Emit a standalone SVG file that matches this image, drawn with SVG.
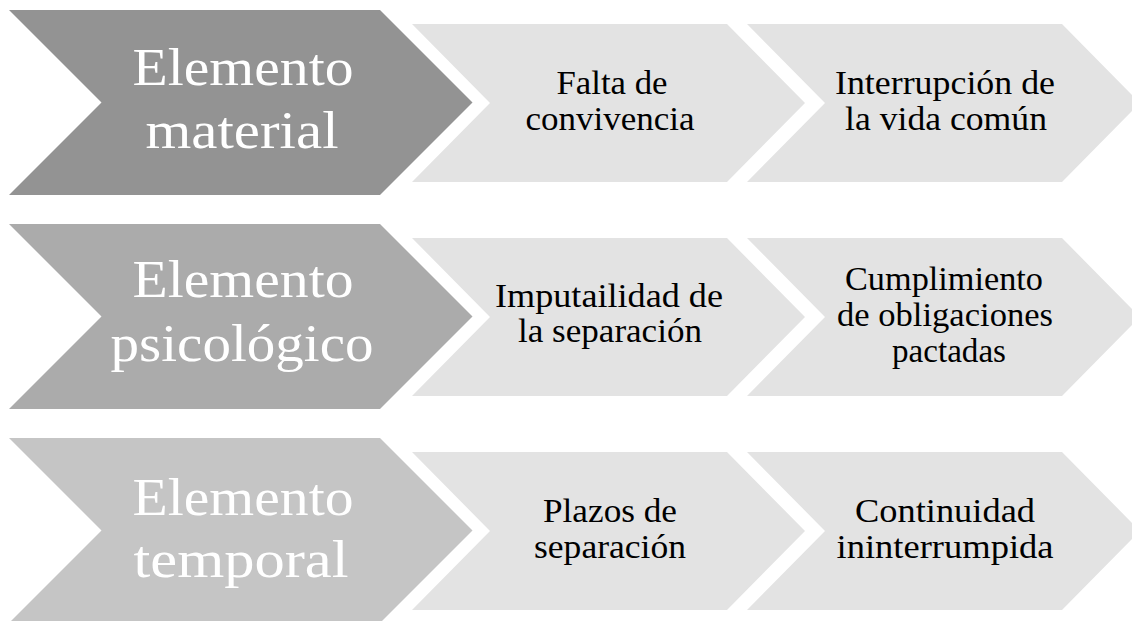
<svg xmlns="http://www.w3.org/2000/svg" width="1132" height="621" viewBox="0 0 1132 621">
<style>
.big1{fill:#939393}
.big2{fill:#ababab}
.big3{fill:#c5c5c5}
.small{fill:#e3e3e3}
.bt{font-family:"Liberation Serif","Times New Roman",serif;font-size:53px;fill:#ffffff;text-anchor:middle}
.st{font-family:"Liberation Serif","Times New Roman",serif;font-size:34px;fill:#000000;text-anchor:middle}
</style>
<defs>
<path id="bigShape" d="M9,10 H380 L472.5,102.5 L380,195 H9 L101.5,102.5 Z"/>
<path id="smallShape" d="M0,24 H315 L393,103 L315,182 H0 L78,103 Z"/>
</defs>
<rect width="1132" height="621" fill="#ffffff"/>
<g id="connectors"/>

<g id="row1-main">
<use href="#bigShape" class="big1"/>
<text class="bt" x="243" y="85" textLength="221" lengthAdjust="spacingAndGlyphs">Elemento</text>
<text class="bt" x="242" y="148" textLength="193" lengthAdjust="spacingAndGlyphs">material</text>
</g>
<g id="row1-a">
<use href="#smallShape" class="small" x="412"/>
<text class="st" x="612" y="94" textLength="111" lengthAdjust="spacingAndGlyphs">Falta de</text>
<text class="st" x="610" y="130" textLength="169" lengthAdjust="spacingAndGlyphs">convivencia</text>
</g>
<g id="row1-b">
<use href="#smallShape" class="small" x="747"/>
<text class="st" x="945" y="94" textLength="220" lengthAdjust="spacingAndGlyphs">Interrupción de</text>
<text class="st" x="946" y="130" textLength="202" lengthAdjust="spacingAndGlyphs">la vida común</text>
</g>

<g id="row2-main">
<use href="#bigShape" class="big2" y="214"/>
<text class="bt" x="243" y="297" textLength="221" lengthAdjust="spacingAndGlyphs">Elemento</text>
<text class="bt" x="242" y="361" textLength="263" lengthAdjust="spacingAndGlyphs">psicológico</text>
</g>
<g id="row2-a">
<use href="#smallShape" class="small" x="412" y="214"/>
<text class="st" x="609" y="307" textLength="228" lengthAdjust="spacingAndGlyphs">Imputailidad de</text>
<text class="st" x="610" y="342" textLength="184" lengthAdjust="spacingAndGlyphs">la separación</text>
</g>
<g id="row2-b">
<use href="#smallShape" class="small" x="747" y="214"/>
<text class="st" x="944" y="290" textLength="198" lengthAdjust="spacingAndGlyphs">Cumplimiento</text>
<text class="st" x="945" y="326" textLength="216" lengthAdjust="spacingAndGlyphs">de obligaciones</text>
<text class="st" x="949" y="362" textLength="114" lengthAdjust="spacingAndGlyphs">pactadas</text>
</g>

<g id="row3-main">
<use href="#bigShape" class="big3" y="428"/>
<text class="bt" x="243" y="515" textLength="221" lengthAdjust="spacingAndGlyphs">Elemento</text>
<text class="bt" x="241" y="577" textLength="215" lengthAdjust="spacingAndGlyphs">temporal</text>
</g>
<g id="row3-a">
<use href="#smallShape" class="small" x="412" y="428"/>
<text class="st" x="610" y="522" textLength="134" lengthAdjust="spacingAndGlyphs">Plazos de</text>
<text class="st" x="610" y="558" textLength="152" lengthAdjust="spacingAndGlyphs">separación</text>
</g>
<g id="row3-b">
<use href="#smallShape" class="small" x="747" y="428"/>
<text class="st" x="945" y="522" textLength="180" lengthAdjust="spacingAndGlyphs">Continuidad</text>
<text class="st" x="945" y="558" textLength="217" lengthAdjust="spacingAndGlyphs">ininterrumpida</text>
</g>
</svg>
